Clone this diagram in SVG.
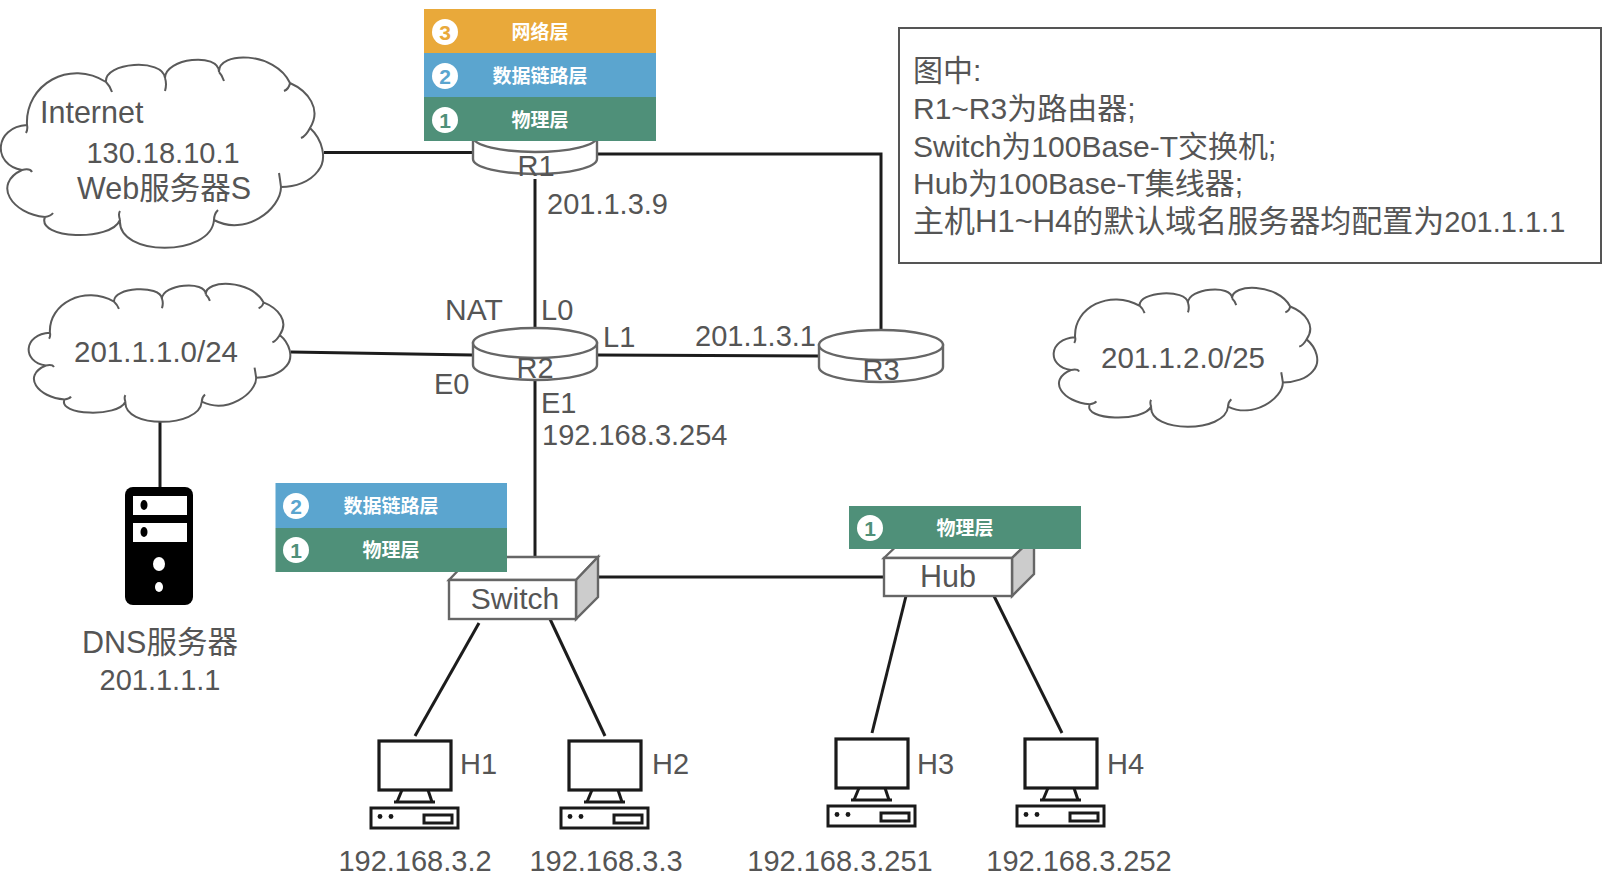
<svg xmlns="http://www.w3.org/2000/svg" xmlns:xlink="http://www.w3.org/1999/xlink" width="1624" height="884" viewBox="0 0 1624 884">
<style>
text{font-family:"Liberation Sans","Noto Sans CJK SC",sans-serif;fill:#555;font-size:29px}
.m{text-anchor:middle}
.c{font-size:30.5px}
.n{font-size:30px}
.l{font-family:"Noto Sans CJK SC",sans-serif;font-size:19px;font-weight:700;fill:#fff;text-anchor:middle}
.d{font-family:"Liberation Sans",sans-serif;font-size:21px;font-weight:700;text-anchor:middle}
.cl{fill:#fff;stroke:#5a5a5a;stroke-width:2;vector-effect:non-scaling-stroke}
.dev{fill:#fff;stroke:#666;stroke-width:2.4}
.side{fill:#ccc;stroke:#666;stroke-width:2.4}
.pc{fill:#fff;stroke:#1a1a1a;stroke-width:3.2}
.pcs{fill:none;stroke:#1a1a1a;stroke-width:3}
#links path{fill:none;stroke:#1c1c1c;stroke-width:3}
.o{fill:#e9a93a}.b{fill:#5ba5cf}.g{fill:#4f9079}
</style>
<defs>
<path id="cloud" class="cl" d="M27 66C25 25 70 0 106 23C104 3 163-1 165 19C165-1 219-7 219 13C218-8 275-8 290 24C308 32 322 50 310 69C322 80 328 100 318 112C310 123 295 128 281 128C281 150 245 178 214 161C211 198 117 198 120 161C111 183 36 180 45 158C12 155-8 125 22 111C-8 106-6 68 27 66ZM106 23q4 4 6 10M165 19q2 6 0 13M219 13q3 3 5 9M290 24q-1 6-6 8M310 69q-4 8-9 10M281 128q-1-8-2-14M214 161q0-6 4-10M120 161q-2-6 0-9M45 158q6-1 8-4M22 111q8-2 10 2M27 66q1 4-1 8"/>
<g id="router">
<path class="dev" d="M-62 0V22A62 15 0 0 0 62 22V0Z"/>
<ellipse class="dev" rx="62" ry="15"/>
</g>
<g id="computer">
<rect class="pc" x="-36" y="0" width="72" height="49"/>
<path class="pcs" d="M-13 49L-18 61M13 49L17 61"/>
<path class="pc" d="M-21 61H20"/>
<rect class="pcs" x="-44" y="67" width="87" height="20"/>
<circle cx="-35" cy="75.500" r="2.400" fill="#1a1a1a"/>
<circle cx="-24" cy="75.500" r="2.400" fill="#1a1a1a"/>
<rect class="pcs" x="9" y="74" width="28" height="8"/>
</g>
</defs>

<g id="links">
<path d="M324 152.500H473"/>
<path d="M597 154H881V330"/>
<path d="M535 179V329"/>
<path d="M291 352L472 355"/>
<path d="M597 355L819 356"/>
<path d="M535 380V557"/>
<path d="M160 422V487"/>
<path d="M598 577H884"/>
<path d="M479 623L415 736"/>
<path d="M550 619L605 736"/>
<path d="M906 596L872 733"/>
<path d="M994 596L1062 733"/>
</g>

<g id="cloud-internet">
<use href="#cloud" xlink:href="#cloud" transform="translate(0 59)"/>
<text class="c" x="40" y="123">Internet</text>
<text class="m" x="163" y="163">130.18.10.1</text>
<text class="m c" x="164" y="199">Web服务器S</text>
</g>
<g id="cloud-lan1">
<use href="#cloud" xlink:href="#cloud" transform="translate(28 285) scale(.812 .725)"/>
<text class="m" x="156" y="362" style="font-size:29.500px">201.1.1.0/24</text>
</g>
<g id="cloud-lan2">
<use href="#cloud" xlink:href="#cloud" transform="translate(1053 289) scale(.818 .73)"/>
<text class="m" x="1183" y="368" style="font-size:29.500px">201.1.2.0/25</text>
</g>

<g id="r1">
<use href="#router" xlink:href="#router" transform="translate(535 137)"/>
<text class="m" x="536" y="176">R1</text>
</g>
<g id="r1-layers">
<rect class="o" x="424" y="9" width="232" height="44"/>
<rect class="b" x="424" y="53" width="232" height="44"/>
<rect class="g" x="424" y="97" width="232" height="44"/>
<circle cx="445" cy="32" r="13" fill="#fff"/><text class="d" x="445" y="39.500" style="fill:#e9a93a">3</text>
<circle cx="445" cy="76" r="13" fill="#fff"/><text class="d" x="445" y="83.500" style="fill:#5ba5cf">2</text>
<circle cx="445" cy="120" r="13" fill="#fff"/><text class="d" x="445" y="127.500" style="fill:#4f9079">1</text>
<text class="l" x="540" y="39">网络层</text>
<text class="l" x="540" y="83">数据链路层</text>
<text class="l" x="540" y="127">物理层</text>
</g>
<text x="547" y="214">201.1.3.9</text>

<g id="r2">
<use href="#router" xlink:href="#router" transform="translate(535 343)"/>
<text class="m" x="535" y="378">R2</text>
</g>
<text x="445" y="320" style="font-size:30px">NAT</text>
<text x="541" y="320">L0</text>
<text x="603" y="347">L1</text>
<text x="434" y="394">E0</text>
<text x="541" y="413">E1</text>
<text x="542" y="445">192.168.3.254</text>
<text x="695" y="346">201.1.3.1</text>

<g id="r3">
<use href="#router" xlink:href="#router" transform="translate(881 345)"/>
<text class="m" x="881" y="380">R3</text>
</g>

<g id="dns">
<rect x="125" y="487" width="68" height="118" rx="8" fill="#000"/>
<rect x="133" y="496" width="54" height="19" fill="#fff"/>
<rect x="133" y="523" width="54" height="19" fill="#fff"/>
<ellipse cx="144" cy="505" rx="3.500" ry="5" fill="#000"/>
<ellipse cx="144" cy="532" rx="3.500" ry="5" fill="#000"/>
<ellipse cx="159" cy="564" rx="6" ry="7" fill="#fff"/>
<ellipse cx="159" cy="587" rx="4" ry="5" fill="#fff"/>
<text class="m c" x="160" y="653">DNS服务器</text>
<text class="m" x="160" y="690">201.1.1.1</text>
</g>

<g id="switch">
<path class="dev" d="M449 580L471 557H598L576 580Z"/>
<path class="side" d="M576 580L598 557V597L576 619Z"/>
<rect class="dev" x="449" y="580" width="127" height="39"/>
<text class="m" x="515" y="609" style="font-size:30px">Switch</text>
</g>
<g id="switch-layers">
<rect class="b" x="275.500" y="483" width="231.500" height="45"/>
<rect class="g" x="275.500" y="528" width="231.500" height="44"/>
<circle cx="296" cy="506" r="13" fill="#fff"/><text class="d" x="296" y="513.500" style="fill:#5ba5cf">2</text>
<circle cx="296" cy="550" r="13" fill="#fff"/><text class="d" x="296" y="557.500" style="fill:#4f9079">1</text>
<text class="l" x="391" y="513">数据链路层</text>
<text class="l" x="391" y="557">物理层</text>
</g>

<g id="hub">
<path class="dev" d="M884 558L906 537H1034L1012 558Z"/>
<path class="side" d="M1012 558L1034 537V574L1012 596Z"/>
<rect class="dev" x="884" y="558" width="128" height="38"/>
<text class="m" x="948" y="587" style="font-size:30.500px">Hub</text>
</g>
<g id="hub-layers">
<rect class="g" x="849" y="506" width="232" height="43"/>
<circle cx="870" cy="528" r="13" fill="#fff"/><text class="d" x="870" y="535.500" style="fill:#4f9079">1</text>
<text class="l" x="965" y="535">物理层</text>
</g>

<g id="h1">
<use href="#computer" xlink:href="#computer" transform="translate(415 741)"/>
<text x="460" y="774">H1</text>
<text class="m" x="415" y="871">192.168.3.2</text>
</g>
<g id="h2">
<use href="#computer" xlink:href="#computer" transform="translate(605 741)"/>
<text x="652" y="774">H2</text>
<text class="m" x="606" y="871">192.168.3.3</text>
</g>
<g id="h3">
<use href="#computer" xlink:href="#computer" transform="translate(872 739)"/>
<text x="917" y="774">H3</text>
<text class="m" x="840" y="871">192.168.3.251</text>
</g>
<g id="h4">
<use href="#computer" xlink:href="#computer" transform="translate(1061 739)"/>
<text x="1107" y="774">H4</text>
<text class="m" x="1079" y="871">192.168.3.252</text>
</g>

<g id="note">
<rect x="899" y="28" width="702" height="235" fill="#fff" stroke="#555" stroke-width="2"/>
<text class="n" x="913" y="81">图中:</text>
<text class="n" x="913" y="119">R1~R3为路由器;</text>
<text class="n" x="913" y="157">Switch为100Base-T交换机;</text>
<text class="n" x="913" y="194">Hub为100Base-T集线器;</text>
<text x="913" y="232" style="font-size:31px">主机H1~H4的默认域名服务器均配置为<tspan style="font-size:29px">201.1.1.1</tspan></text>
</g>
</svg>
